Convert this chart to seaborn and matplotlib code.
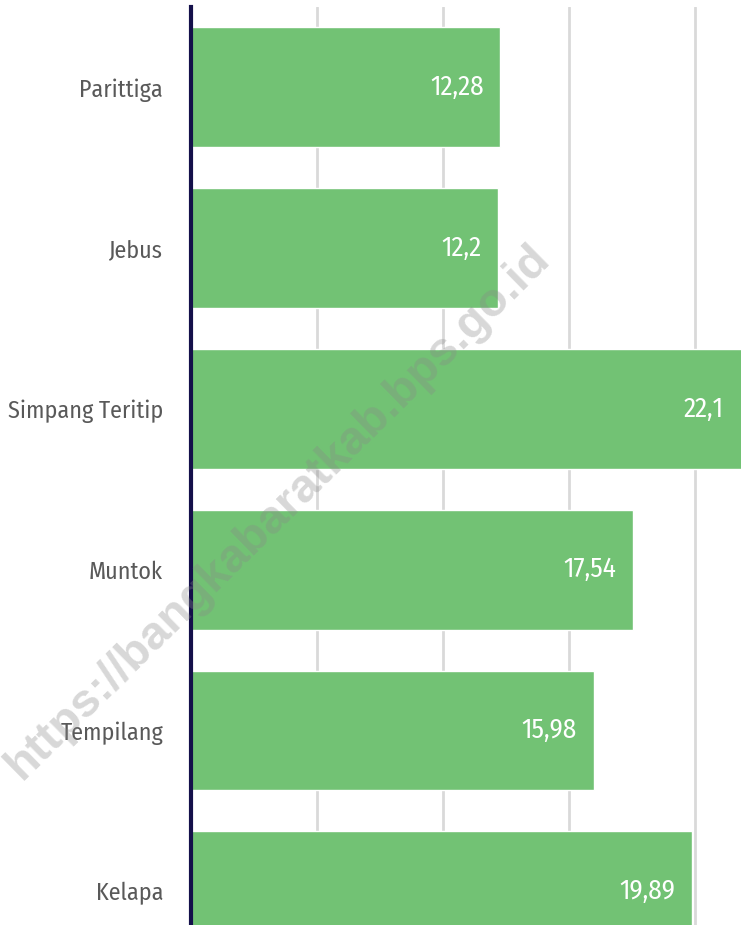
import matplotlib
matplotlib.use("Agg")
import matplotlib.pyplot as plt
from matplotlib import font_manager
import seaborn as sns
import pandas as pd

categories = ["Parittiga", "Jebus", "Simpang Teritip", "Muntok", "Tempilang", "Kelapa"]
values = [12.28, 12.2, 22.1, 17.54, 15.98, 19.89]
value_labels = ["12,28", "12,2", "22,1", "17,54", "15,98", "19,89"]

sns.set_theme(style="white")

# pick a condensed font if one is installed
cond_family = None
cond_stretch = "normal"
names = {f.name for f in font_manager.fontManager.ttflist}
for cand in ["Fira Sans Condensed", "Roboto Condensed", "Open Sans Condensed",
             "Liberation Sans Narrow", "DejaVu Sans Condensed", "Noto Sans Condensed"]:
    if cand in names:
        cond_family = cand
        break
if cond_family is None:
    for f in font_manager.fontManager.ttflist:
        if f.name == "DejaVu Sans" and str(f.stretch) in ("condensed", "semi-condensed", "extra-condensed") and f.weight in (400, "normal"):
            cond_family = "DejaVu Sans"
            cond_stretch = "condensed"
            break
if cond_family is None:
    cond_family = "DejaVu Sans"

plt.rcParams['font.family'] = [cond_family, 'DejaVu Sans']
plt.rcParams['font.stretch'] = cond_stretch

df = pd.DataFrame({"kecamatan": categories, "nilai": values})

fig = plt.figure(figsize=(7.41, 9.25), dpi=100)
ax = fig.add_axes([191/741, 0, 1 - 191/741, 1 - 7/925])

sns.barplot(data=df, y="kecamatan", x="nilai", orient="h", color="#72C274",
            saturation=1, width=0.746, ax=ax, zorder=2)

ax.set_xlim(0, 21.83)
ax.set_ylim(5.21, -0.5)
ax.set_xticks([5, 10, 15, 20])
ax.set_xticklabels([])
ax.tick_params(axis='x', length=0)
ax.tick_params(axis='y', length=0, pad=20, labelsize=17.3, labelcolor="#595959")
for t in ax.get_yticklabels():
    t.set_fontstretch(cond_stretch)
ax.grid(axis='x', color="#d9d9d9", linewidth=2, zorder=0)
ax.set_axisbelow(True)
ax.set_xlabel("")
ax.set_ylabel("")
for s in ["top", "right", "bottom"]:
    ax.spines[s].set_visible(False)
ax.spines["left"].set_color("#14104a")
ax.spines["left"].set_linewidth(3)
ax.spines["left"].set_zorder(5)

for i, (v, lab) in enumerate(zip(values, value_labels)):
    xv = min(v, 21.83)
    ax.text(xv - 0.67, i, lab, ha="right", va="center", color="white",
            fontsize=19.5, fontstretch=cond_stretch, zorder=4)

fig.text(0.375, 0.446, "https://bangkabaratkab.bps.go.id", rotation=44.5,
         ha="center", va="center", fontsize=34, fontweight="bold",
         color="#888888", alpha=0.33, family=["Liberation Sans", "DejaVu Sans"],
         zorder=10)

fig.savefig("out.png", dpi=100)
